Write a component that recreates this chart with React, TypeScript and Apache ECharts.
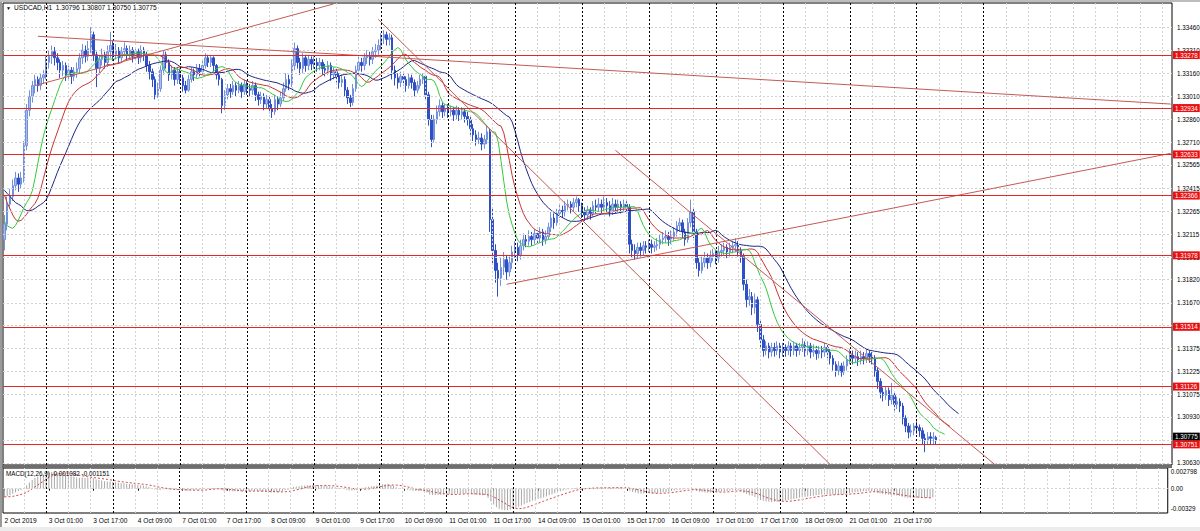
import React, { useEffect, useRef } from "react";
import * as echarts from "echarts";

const FONT = "Liberation Sans, Arial, sans-serif";

// layout slots on the time axis (bars + empty space to the right)
const slotCount = 419;
const xTickStep = 16;
const gridStep = 8;
const xTickLabels = [
  "2 Oct 2019", "3 Oct 01:00", "3 Oct 17:00", "4 Oct 09:00", "7 Oct 01:00", "7 Oct 17:00",
  "8 Oct 09:00", "9 Oct 01:00", "9 Oct 17:00", "10 Oct 09:00", "11 Oct 01:00", "11 Oct 17:00",
  "14 Oct 09:00", "15 Oct 01:00", "15 Oct 17:00", "16 Oct 09:00", "17 Oct 01:00", "17 Oct 17:00",
  "18 Oct 09:00", "21 Oct 01:00", "21 Oct 17:00",
];
const daySeparatorBars = [15, 39, 63, 87, 111, 135, 159, 183, 207, 231, 255, 279, 303, 327, 351];

const priceMin = 1.30617;
const priceMax = 1.33616;
const yTicks = [
  1.3063, 1.3078, 1.3093, 1.31075, 1.31225, 1.31375, 1.31525, 1.3167, 1.3182, 1.31965,
  1.32115, 1.32265, 1.32415, 1.32565, 1.3271, 1.3286, 1.3301, 1.3316, 1.3331, 1.3346,
];
const levels = [1.33278, 1.32934, 1.32633, 1.32366, 1.31978, 1.31514, 1.31126, 1.30751];
const bidPrice = 1.30775;
const headerText = "USDCAD,H1  1.30796 1.30807 1.30750 1.30775";
const macdTitle = "MACD(12,26,9) -0.001082 -0.001151";

// [open, close, low, high]
const ohlc = [
  [1.3208,1.3218,1.3201,1.3224],[1.3218,1.3231,1.3214,1.3236],[1.3231,1.3236,1.3228,1.3241],[1.3236,1.3243,1.3233,1.3247],
  [1.3243,1.3248,1.3240,1.3252],[1.3248,1.3244,1.3239,1.3251],[1.3244,1.3248,1.3241,1.3252],[1.3248,1.3269,1.3245,1.3272],
  [1.3269,1.3292,1.3266,1.3296],[1.3292,1.3301,1.3288,1.3305],[1.3301,1.3308,1.3297,1.3311],[1.3308,1.3312,1.3303,1.3315],
  [1.3312,1.3308,1.3304,1.3314],[1.3308,1.3313,1.3305,1.3316],[1.3313,1.3315,1.3309,1.3318],[1.3315,1.3323,1.3312,1.3327],
  [1.3323,1.3327,1.3319,1.3331],[1.3327,1.3330,1.3322,1.3334],[1.3330,1.3326,1.3321,1.3333],[1.3326,1.3323,1.3318,1.3329],
  [1.3323,1.3318,1.3313,1.3325],[1.3318,1.3321,1.3314,1.3324],[1.3321,1.3315,1.3311,1.3323],[1.3315,1.3318,1.3312,1.3321],
  [1.3318,1.3314,1.3309,1.3320],[1.3314,1.3317,1.3311,1.3320],[1.3317,1.3319,1.3313,1.3323],[1.3319,1.3326,1.3316,1.3329],
  [1.3326,1.3331,1.3322,1.3335],[1.3331,1.3327,1.3323,1.3334],[1.3327,1.3332,1.3324,1.3337],[1.3332,1.3341,1.3329,1.3346],
  [1.3341,1.3328,1.3324,1.3343],[1.3328,1.3319,1.3307,1.3330],[1.3319,1.3325,1.3315,1.3328],[1.3325,1.3328,1.3321,1.3332],
  [1.3328,1.3323,1.3319,1.3330],[1.3323,1.3330,1.3320,1.3334],[1.3330,1.3334,1.3326,1.3343],[1.3334,1.3328,1.3324,1.3337],
  [1.3328,1.3331,1.3325,1.3335],[1.3331,1.3326,1.3322,1.3333],[1.3326,1.3330,1.3323,1.3333],[1.3330,1.3332,1.3327,1.3336],
  [1.3332,1.3328,1.3324,1.3334],[1.3328,1.3331,1.3325,1.3334],[1.3331,1.3327,1.3323,1.3333],[1.3327,1.3330,1.3324,1.3333],
  [1.3330,1.3326,1.3322,1.3332],[1.3326,1.3331,1.3323,1.3334],[1.3331,1.3328,1.3324,1.3333],[1.3328,1.3321,1.3317,1.3330],
  [1.3321,1.3317,1.3312,1.3324],[1.3317,1.3312,1.3307,1.3319],[1.3312,1.3302,1.3299,1.3314],[1.3302,1.3306,1.3300,1.3310],
  [1.3306,1.3318,1.3304,1.3321],[1.3318,1.3328,1.3315,1.3331],[1.3328,1.3323,1.3319,1.3330],[1.3323,1.3315,1.3311,1.3325],
  [1.3315,1.3318,1.3312,1.3321],[1.3318,1.3312,1.3308,1.3320],[1.3312,1.3317,1.3309,1.3320],[1.3317,1.3313,1.3309,1.3319],
  [1.3313,1.3308,1.3304,1.3315],[1.3308,1.3305,1.3303,1.3311],[1.3305,1.3312,1.3304,1.3315],[1.3312,1.3317,1.3310,1.3320],
  [1.3317,1.3315,1.3311,1.3319],[1.3315,1.3319,1.3313,1.3322],[1.3319,1.3317,1.3314,1.3322],[1.3317,1.3321,1.3315,1.3324],
  [1.3321,1.3326,1.3319,1.3329],[1.3326,1.3323,1.3320,1.3328],[1.3323,1.3326,1.3320,1.3328],[1.3326,1.3321,1.3317,1.3327],
  [1.3321,1.3315,1.3312,1.3322],[1.3315,1.3312,1.3308,1.3317],[1.3312,1.3295,1.3290,1.3313],[1.3295,1.3302,1.3292,1.3305],
  [1.3302,1.3306,1.3299,1.3309],[1.3306,1.3304,1.3300,1.3309],[1.3304,1.3308,1.3302,1.3311],[1.3308,1.3305,1.3301,1.3310],
  [1.3305,1.3308,1.3303,1.3311],[1.3308,1.3304,1.3300,1.3310],[1.3304,1.3309,1.3302,1.3312],[1.3309,1.3306,1.3302,1.3311],
  [1.3306,1.3305,1.3301,1.3309],[1.3305,1.3308,1.3302,1.3311],[1.3308,1.3302,1.3298,1.3310],[1.3302,1.3299,1.3295,1.3304],
  [1.3299,1.3301,1.3296,1.3304],[1.3301,1.3296,1.3292,1.3303],[1.3296,1.3299,1.3293,1.3302],[1.3299,1.3293,1.3290,1.3301],
  [1.3293,1.3291,1.3287,1.3296],[1.3291,1.3299,1.3289,1.3302],[1.3299,1.3296,1.3292,1.3301],[1.3296,1.3300,1.3294,1.3304],
  [1.3300,1.3306,1.3298,1.3310],[1.3306,1.3312,1.3304,1.3316],[1.3312,1.3309,1.3305,1.3315],[1.3309,1.3321,1.3307,1.3325],
  [1.3321,1.3332,1.3318,1.3336],[1.3332,1.3323,1.3319,1.3334],[1.3323,1.3319,1.3315,1.3326],[1.3319,1.3326,1.3316,1.3329],
  [1.3326,1.3321,1.3317,1.3328],[1.3321,1.3325,1.3318,1.3328],[1.3325,1.3322,1.3318,1.3327],[1.3322,1.3323,1.3319,1.3327],
  [1.3323,1.3321,1.3317,1.3326],[1.3321,1.3323,1.3318,1.3326],[1.3323,1.3319,1.3315,1.3325],[1.3319,1.3318,1.3314,1.3322],
  [1.3318,1.3321,1.3315,1.3324],[1.3321,1.3315,1.3311,1.3323],[1.3315,1.3317,1.3312,1.3320],[1.3317,1.3314,1.3310,1.3319],
  [1.3314,1.3310,1.3306,1.3316],[1.3310,1.3312,1.3307,1.3315],[1.3312,1.3305,1.3301,1.3314],[1.3305,1.3300,1.3296,1.3307],
  [1.3300,1.3297,1.3294,1.3302],[1.3297,1.3306,1.3295,1.3309],[1.3306,1.3318,1.3304,1.3321],[1.3318,1.3323,1.3315,1.3327],
  [1.3323,1.3321,1.3317,1.3326],[1.3321,1.3326,1.3318,1.3329],[1.3326,1.3327,1.3322,1.3331],[1.3327,1.3325,1.3321,1.3330],
  [1.3325,1.3330,1.3322,1.3333],[1.3330,1.3331,1.3326,1.3335],[1.3331,1.3334,1.3328,1.3338],[1.3334,1.3339,1.3331,1.3342],
  [1.3339,1.3341,1.3335,1.3344],[1.3341,1.3338,1.3334,1.3343],[1.3338,1.3339,1.3334,1.3342],[1.3339,1.3318,1.3312,1.3341],
  [1.3318,1.3313,1.3308,1.3321],[1.3313,1.3310,1.3306,1.3316],[1.3310,1.3314,1.3307,1.3317],[1.3314,1.3312,1.3308,1.3317],
  [1.3312,1.3308,1.3304,1.3314],[1.3308,1.3313,1.3306,1.3316],[1.3313,1.3310,1.3306,1.3315],[1.3310,1.3305,1.3301,1.3312],
  [1.3305,1.3308,1.3303,1.3311],[1.3308,1.3312,1.3306,1.3315],[1.3312,1.3314,1.3309,1.3316],[1.3314,1.3302,1.3298,1.3315],
  [1.3302,1.3286,1.3282,1.3304],[1.3286,1.3273,1.3268,1.3289],[1.3273,1.3286,1.3271,1.3289],[1.3286,1.3291,1.3283,1.3295],
  [1.3291,1.3295,1.3288,1.3299],[1.3295,1.3291,1.3287,1.3297],[1.3291,1.3293,1.3288,1.3296],[1.3293,1.3291,1.3287,1.3296],
  [1.3291,1.3292,1.3288,1.3295],[1.3292,1.3289,1.3285,1.3294],[1.3289,1.3292,1.3286,1.3295],[1.3292,1.3289,1.3285,1.3294],
  [1.3289,1.3291,1.3286,1.3294],[1.3291,1.3288,1.3284,1.3293],[1.3288,1.3286,1.3282,1.3291],[1.3286,1.3280,1.3276,1.3288],
  [1.3280,1.3276,1.3272,1.3283],[1.3276,1.3273,1.3269,1.3279],[1.3273,1.3274,1.3270,1.3278],[1.3274,1.3270,1.3266,1.3277],
  [1.3270,1.3273,1.3267,1.3276],[1.3273,1.3278,1.3270,1.3282],[1.3278,1.3221,1.3213,1.3280],[1.3221,1.3201,1.3192,1.3228],
  [1.3201,1.3188,1.3180,1.3205],[1.3188,1.3183,1.3171,1.3193],[1.3183,1.3190,1.3178,1.3196],[1.3190,1.3195,1.3185,1.3200],
  [1.3195,1.3187,1.3182,1.3198],[1.3187,1.3193,1.3184,1.3197],[1.3193,1.3200,1.3189,1.3204],[1.3200,1.3203,1.3196,1.3207],
  [1.3203,1.3198,1.3194,1.3206],[1.3198,1.3204,1.3195,1.3208],[1.3204,1.3208,1.3201,1.3212],[1.3208,1.3207,1.3203,1.3211],
  [1.3207,1.3210,1.3204,1.3214],[1.3210,1.3208,1.3204,1.3213],[1.3208,1.3212,1.3205,1.3215],[1.3212,1.3209,1.3205,1.3214],
  [1.3209,1.3213,1.3206,1.3216],[1.3213,1.3208,1.3204,1.3215],[1.3208,1.3210,1.3205,1.3214],[1.3210,1.3216,1.3208,1.3219],
  [1.3216,1.3222,1.3213,1.3226],[1.3222,1.3219,1.3215,1.3225],[1.3219,1.3225,1.3217,1.3228],[1.3225,1.3227,1.3222,1.3231],
  [1.3227,1.3226,1.3222,1.3230],[1.3226,1.3230,1.3223,1.3233],[1.3230,1.3231,1.3227,1.3234],[1.3231,1.3229,1.3225,1.3233],
  [1.3229,1.3232,1.3226,1.3235],[1.3232,1.3234,1.3229,1.3236],[1.3234,1.3230,1.3226,1.3235],[1.3230,1.3226,1.3222,1.3232],
  [1.3226,1.3224,1.3220,1.3229],[1.3224,1.3227,1.3221,1.3230],[1.3227,1.3225,1.3221,1.3229],[1.3225,1.3230,1.3223,1.3233],
  [1.3230,1.3229,1.3225,1.3234],[1.3229,1.3231,1.3226,1.3235],[1.3231,1.3229,1.3225,1.3234],[1.3229,1.3232,1.3226,1.3236],
  [1.3232,1.3230,1.3226,1.3235],[1.3230,1.3227,1.3223,1.3233],[1.3227,1.3231,1.3224,1.3235],[1.3231,1.3229,1.3225,1.3234],
  [1.3229,1.3231,1.3226,1.3234],[1.3231,1.3229,1.3225,1.3233],[1.3229,1.3231,1.3226,1.3234],[1.3231,1.3229,1.3225,1.3233],
  [1.3229,1.3205,1.3199,1.3231],[1.3205,1.3201,1.3196,1.3208],[1.3201,1.3199,1.3195,1.3205],[1.3199,1.3203,1.3196,1.3206],
  [1.3203,1.3201,1.3197,1.3206],[1.3201,1.3204,1.3198,1.3207],[1.3204,1.3203,1.3199,1.3207],[1.3203,1.3205,1.3200,1.3208],
  [1.3205,1.3203,1.3199,1.3208],[1.3203,1.3204,1.3200,1.3207],[1.3204,1.3205,1.3201,1.3209],[1.3205,1.3208,1.3202,1.3211],
  [1.3208,1.3209,1.3205,1.3213],[1.3209,1.3210,1.3206,1.3214],[1.3210,1.3208,1.3204,1.3213],[1.3208,1.3210,1.3205,1.3214],
  [1.3210,1.3213,1.3207,1.3216],[1.3213,1.3217,1.3210,1.3220],[1.3217,1.3219,1.3213,1.3222],[1.3219,1.3213,1.3209,1.3221],
  [1.3213,1.3208,1.3204,1.3215],[1.3208,1.3219,1.3206,1.3222],[1.3219,1.3226,1.3216,1.3234],[1.3226,1.3213,1.3209,1.3228],
  [1.3213,1.3193,1.3189,1.3215],[1.3193,1.3188,1.3184,1.3196],[1.3188,1.3193,1.3186,1.3197],[1.3193,1.3196,1.3190,1.3200],
  [1.3196,1.3193,1.3189,1.3199],[1.3193,1.3197,1.3190,1.3201],[1.3197,1.3199,1.3194,1.3202],[1.3199,1.3196,1.3192,1.3201],
  [1.3196,1.3200,1.3193,1.3204],[1.3200,1.3201,1.3197,1.3205],[1.3201,1.3203,1.3198,1.3206],[1.3203,1.3200,1.3196,1.3205],
  [1.3200,1.3203,1.3197,1.3206],[1.3203,1.3204,1.3199,1.3207],[1.3204,1.3205,1.3200,1.3209],[1.3205,1.3201,1.3197,1.3207],
  [1.3201,1.3197,1.3193,1.3203],[1.3197,1.3179,1.3175,1.3199],[1.3179,1.3169,1.3164,1.3182],[1.3169,1.3171,1.3165,1.3176],
  [1.3171,1.3164,1.3159,1.3174],[1.3164,1.3169,1.3160,1.3173],[1.3169,1.3153,1.3148,1.3171],[1.3153,1.3143,1.3138,1.3156],
  [1.3143,1.3136,1.3132,1.3146],[1.3136,1.3139,1.3133,1.3142],[1.3139,1.3135,1.3131,1.3141],[1.3135,1.3138,1.3132,1.3141],
  [1.3138,1.3136,1.3132,1.3141],[1.3136,1.3139,1.3133,1.3142],[1.3139,1.3135,1.3131,1.3141],[1.3135,1.3138,1.3132,1.3141],
  [1.3138,1.3136,1.3132,1.3140],[1.3136,1.3139,1.3133,1.3142],[1.3139,1.3136,1.3132,1.3141],[1.3136,1.3139,1.3133,1.3142],
  [1.3139,1.3136,1.3132,1.3141],[1.3136,1.3138,1.3133,1.3141],[1.3138,1.3140,1.3135,1.3144],[1.3140,1.3136,1.3132,1.3142],
  [1.3136,1.3139,1.3133,1.3142],[1.3139,1.3135,1.3131,1.3141],[1.3135,1.3136,1.3132,1.3140],[1.3136,1.3134,1.3130,1.3139],
  [1.3134,1.3136,1.3131,1.3139],[1.3136,1.3135,1.3131,1.3139],[1.3135,1.3138,1.3132,1.3141],[1.3138,1.3135,1.3131,1.3140],
  [1.3135,1.3131,1.3127,1.3137],[1.3131,1.3127,1.3123,1.3133],[1.3127,1.3123,1.3119,1.3129],[1.3123,1.3126,1.3120,1.3129],
  [1.3126,1.3122,1.3119,1.3128],[1.3122,1.3126,1.3120,1.3129],[1.3126,1.3130,1.3123,1.3133],[1.3130,1.3133,1.3127,1.3137],
  [1.3133,1.3131,1.3127,1.3136],[1.3131,1.3132,1.3128,1.3136],[1.3132,1.3130,1.3126,1.3135],[1.3130,1.3132,1.3127,1.3136],
  [1.3132,1.3131,1.3127,1.3135],[1.3131,1.3134,1.3128,1.3137],[1.3134,1.3132,1.3128,1.3136],[1.3132,1.3131,1.3127,1.3135],
  [1.3131,1.3123,1.3119,1.3133],[1.3123,1.3116,1.3111,1.3125],[1.3116,1.3109,1.3105,1.3118],[1.3109,1.3107,1.3103,1.3112],
  [1.3107,1.3110,1.3104,1.3113],[1.3110,1.3104,1.3100,1.3112],[1.3104,1.3107,1.3101,1.3115],[1.3107,1.3101,1.3097,1.3109],
  [1.3101,1.3103,1.3098,1.3106],[1.3103,1.3100,1.3096,1.3105],[1.3100,1.3092,1.3088,1.3102],[1.3092,1.3087,1.3083,1.3094],
  [1.3087,1.3083,1.3079,1.3089],[1.3083,1.3084,1.3080,1.3088],[1.3084,1.3087,1.3081,1.3089],[1.3087,1.3086,1.3082,1.3090],
  [1.3086,1.3084,1.3080,1.3088],[1.3084,1.3079,1.3075,1.3086],[1.3079,1.3078,1.3070,1.3082],[1.3078,1.3080,1.3075,1.3083],
  [1.3080,1.3079,1.3075,1.3083],[1.3079,1.30796,1.3075,1.3083],[1.30796,1.30775,1.30750,1.30807],
];

// Alligator line values read at the left edge (before the first computed point)
const jawHead = [1.3240, 1.3238, 1.3236, 1.3234, 1.3232, 1.3231, 1.3230, 1.3228];
const teethHead = [1.3237, 1.3232, 1.3228, 1.3224, 1.3221];
const lipsHead = [1.3220, 1.3217, 1.3216];

// MACD starting state read at the left edge
const macdSeedEma12 = 1.3226;
const macdSeedEma26 = 1.3238;
const macdSeedSignal = -0.0011;
const macdMin = -0.00329;
const macdMax = 0.002798;
const macdTickValues = [0.002798, 0, -0.00329];
const macdTickLabels = ["0.002798", "0.00", "-0.00329"];

// trend lines: [[barIndex, price], [barIndex, price]]
const trendLines = [
  [[12, 1.3340], [418, 1.3296]],
  [[11, 1.3308], [118, 1.3361]],
  [[134, 1.3351], [296, 1.3062]],
  [[219, 1.3266], [355, 1.3062]],
  [[180, 1.3179], [418, 1.3264]],
];

function smmaShifted(head: number[], period: number): (number | null)[] {
  const out: (number | null)[] = new Array(slotCount).fill(null);
  head.forEach((v, i) => (out[i] = v));
  const shift = head.length;
  let prev = head[head.length - 1];
  ohlc.forEach((r, i) => {
    const med = (r[2] + r[3]) / 2;
    prev = (prev * (period - 1) + med) / period;
    if (i + shift < slotCount) out[i + shift] = prev;
  });
  return out;
}

export default function App() {
  const ref = useRef<HTMLDivElement>(null);
  useEffect(() => {
    document.body.style.margin = "0";
    if (!ref.current) return;
    const chart = echarts.init(ref.current, undefined, { renderer: "svg" });

    const slots = Array.from({ length: slotCount }, (_, i) => String(i));
    const gridBars = slots.map((_, i) => i).filter((i) => i % gridStep === gridStep - 1 && !daySeparatorBars.includes(i));
    const jaw = smmaShifted(jawHead, 13);
    const teeth = smmaShifted(teethHead, 8);
    const lips = smmaShifted(lipsHead, 5);

    let e12 = macdSeedEma12;
    let e26 = macdSeedEma26;
    const macd: number[] = [];
    ohlc.forEach((r) => {
      e12 += (2 / 13) * (r[1] - e12);
      e26 += (2 / 27) * (r[1] - e26);
      macd.push(e12 - e26);
    });
    const signal = macd.map((_, i) => {
      let s = 0;
      for (let k = i - 8; k <= i; k++) s += k < 0 ? macdSeedSignal : macd[k];
      return s / 9;
    });

    const gridLineStyle = { color: "#d2d2d2", type: [2, 2], width: 1 };
    const sepStyle = { color: "#000", type: [2, 2], width: 1 };
    const hidden = { color: "rgba(0,0,0,0)", width: 1 };
    const tickLabelStyle = { fontSize: 6.3, color: "#000", fontFamily: FONT };
    const ml = { silent: true, animation: false, symbol: ["none", "none"], precision: 6 };

    const xAxisBase = (gridIndex: number, showLabels: boolean) => ({
      type: "category",
      gridIndex,
      data: slots,
      boundaryGap: true,
      axisLine: { show: false },
      axisTick: showLabels
        ? { show: true, length: 2, alignWithLabel: true, interval: (i: number) => i % xTickStep === 0 && i <= 320, lineStyle: { color: "#000" } }
        : { show: false },
      axisLabel: showLabels
        ? {
            show: true,
            interval: (i: number) => i % xTickStep === 0 && i <= 320,
            formatter: (_: string, i: number) => xTickLabels[i / xTickStep] || "",
            align: "left",
            margin: 4,
            ...tickLabelStyle,
            fontSize: 6.6,
          }
        : { show: false },
      splitLine: { show: false },
    });

    const vLines = (name: string, xi: number, bars: number[], style: any) => ({
      type: "line", name, xAxisIndex: xi, yAxisIndex: xi, data: [], z: 1, silent: true,
      markLine: { ...ml, lineStyle: style, label: { show: false }, data: bars.map((b) => ({ xAxis: b })) },
    });

    const richBase = { fontSize: 6.3, fontFamily: FONT, color: "#000" };

    const option: any = {
      animation: false,
      backgroundColor: "#fff",
      grid: [
        { left: 3, top: 3, width: 1169, height: 462, show: true, borderColor: "#000", borderWidth: 1, backgroundColor: "#fff" },
        { left: 3, top: 468, width: 1169, height: 45, show: true, borderColor: "#000", borderWidth: 1, backgroundColor: "#fff" },
      ],
      xAxis: [xAxisBase(0, false), xAxisBase(1, true)],
      yAxis: [
        { type: "value", gridIndex: 0, min: priceMin, max: priceMax, position: "right", axisLine: { show: false }, axisTick: { show: false }, axisLabel: { show: false }, splitLine: { show: false } },
        {
          type: "value", gridIndex: 1, min: macdMin, max: macdMax, position: "right",
          axisLine: { show: false }, axisTick: { show: false }, splitLine: { show: false },
          axisLabel: {
            show: true, inside: false, margin: 3, ...tickLabelStyle, showMinLabel: true, showMaxLabel: true,
            customValues: macdTickValues,
            rich: {
              top: { ...richBase, padding: [7, 0, 0, 0] },
              mid: { ...richBase },
              bot: { ...richBase, padding: [0, 0, 9, 0] },
            },
            formatter: (v: number) => {
              const idx = macdTickValues.findIndex((t) => Math.abs(t - v) < 1e-7);
              if (idx < 0) return "";
              const key = idx === 0 ? "top" : idx === 2 ? "bot" : "mid";
              return `{${key}|${macdTickLabels[idx]}}`;
            },
          },
        },
      ],
      graphic: [
        { type: "rect", left: 0, top: 0, shape: { width: 2, height: 531 }, style: { fill: "#9a9a9a" }, z: 100 },
        { type: "rect", left: 0, top: 0, shape: { width: 1200, height: 2 }, style: { fill: "#bdbdbd" }, z: 100 },
        { type: "rect", left: 2, top: 465, shape: { width: 1170, height: 3 }, style: { fill: "#6e6e6e" }, z: 100 },
        { type: "rect", left: 0, top: 527, shape: { width: 1200, height: 4 }, style: { fill: "#ececec" }, z: 100 },
        { type: "text", left: 6, top: 5, style: { text: "▼", fontSize: 5, fill: "#000", fontFamily: FONT }, z: 100 },
        { type: "text", left: 14, top: 4, style: { text: headerText, fontSize: 6.6, fill: "#000", fontFamily: FONT }, z: 100 },
        { type: "text", left: 6, top: 470, style: { text: macdTitle, fontSize: 6.3, fill: "#000", fontFamily: FONT }, z: 100 },
      ],
      series: [
        {
          type: "line", name: "ygrid", xAxisIndex: 0, yAxisIndex: 0, data: [], z: 1, silent: true,
          markLine: {
            ...ml, lineStyle: gridLineStyle,
            label: { show: true, position: "end", distance: 5, ...tickLabelStyle, formatter: (p: any) => Number(p.value).toFixed(5) },
            data: yTicks.map((v) => ({ yAxis: v })),
          },
        },
        vLines("vgrid0", 0, gridBars, gridLineStyle),
        vLines("vgrid1", 1, gridBars, gridLineStyle),
        vLines("sep0", 0, daySeparatorBars, sepStyle),
        vLines("sep1", 1, daySeparatorBars, sepStyle),
        {
          type: "line", name: "macdzero", xAxisIndex: 1, yAxisIndex: 1, data: [], z: 1, silent: true,
          markLine: { ...ml, lineStyle: gridLineStyle, label: { show: false }, data: [{ yAxis: 0 }] },
        },
        {
          type: "candlestick", name: "USDCAD", xAxisIndex: 0, yAxisIndex: 0, data: ohlc, barWidth: 2, z: 3,
          itemStyle: { color: "#a9bdea", color0: "#2f50c4", borderColor: "#7390dc", borderColor0: "#2f50c4", borderWidth: 1 },
        },
        { type: "line", name: "jaw", xAxisIndex: 0, yAxisIndex: 0, data: jaw, symbol: "none", z: 4, lineStyle: { color: "#1c2484", width: 1 } },
        { type: "line", name: "teeth", xAxisIndex: 0, yAxisIndex: 0, data: teeth, symbol: "none", z: 4, lineStyle: { color: "#c83232", width: 1 } },
        { type: "line", name: "lips", xAxisIndex: 0, yAxisIndex: 0, data: lips, symbol: "none", z: 4, lineStyle: { color: "#36c83a", width: 1 } },
        {
          type: "line", name: "trend", xAxisIndex: 0, yAxisIndex: 0, data: [], z: 5, silent: true,
          markLine: {
            ...ml, lineStyle: { color: "#c45a55", width: 1, type: "solid" }, label: { show: false },
            data: trendLines.map((t) => [{ coord: t[0] }, { coord: t[1] }]),
          },
        },
        {
          type: "line", name: "levels", xAxisIndex: 0, yAxisIndex: 0, data: [], z: 6, silent: true,
          markLine: {
            ...ml, lineStyle: { color: "#e02a2a", width: 1, type: "solid" },
            label: {
              show: true, position: "end", distance: 1, fontSize: 6.3, fontFamily: FONT, color: "#fff", backgroundColor: "#e81010",
              padding: [1, 2, 1, 2], formatter: (p: any) => Number(p.value).toFixed(5),
            },
            data: [
              { yAxis: bidPrice, lineStyle: hidden, label: { show: true, color: "#fff", backgroundColor: "#000", offset: [0, -4] } },
              ...levels.map((v) => ({ yAxis: v })),
            ],
          },
        },
        { type: "bar", name: "MACD", xAxisIndex: 1, yAxisIndex: 1, data: macd, barWidth: 1, z: 2, itemStyle: { color: "#a8a8a8" } },
        { type: "line", name: "Signal", xAxisIndex: 1, yAxisIndex: 1, data: signal, symbol: "none", z: 3, lineStyle: { color: "#d04545", width: 1, type: [2, 2] } },
      ],
    };
    chart.setOption(option);
    return () => chart.dispose();
  }, []);
  return <div ref={ref} style={{ width: 1200, height: 531, background: "#fff" }} />;
}
